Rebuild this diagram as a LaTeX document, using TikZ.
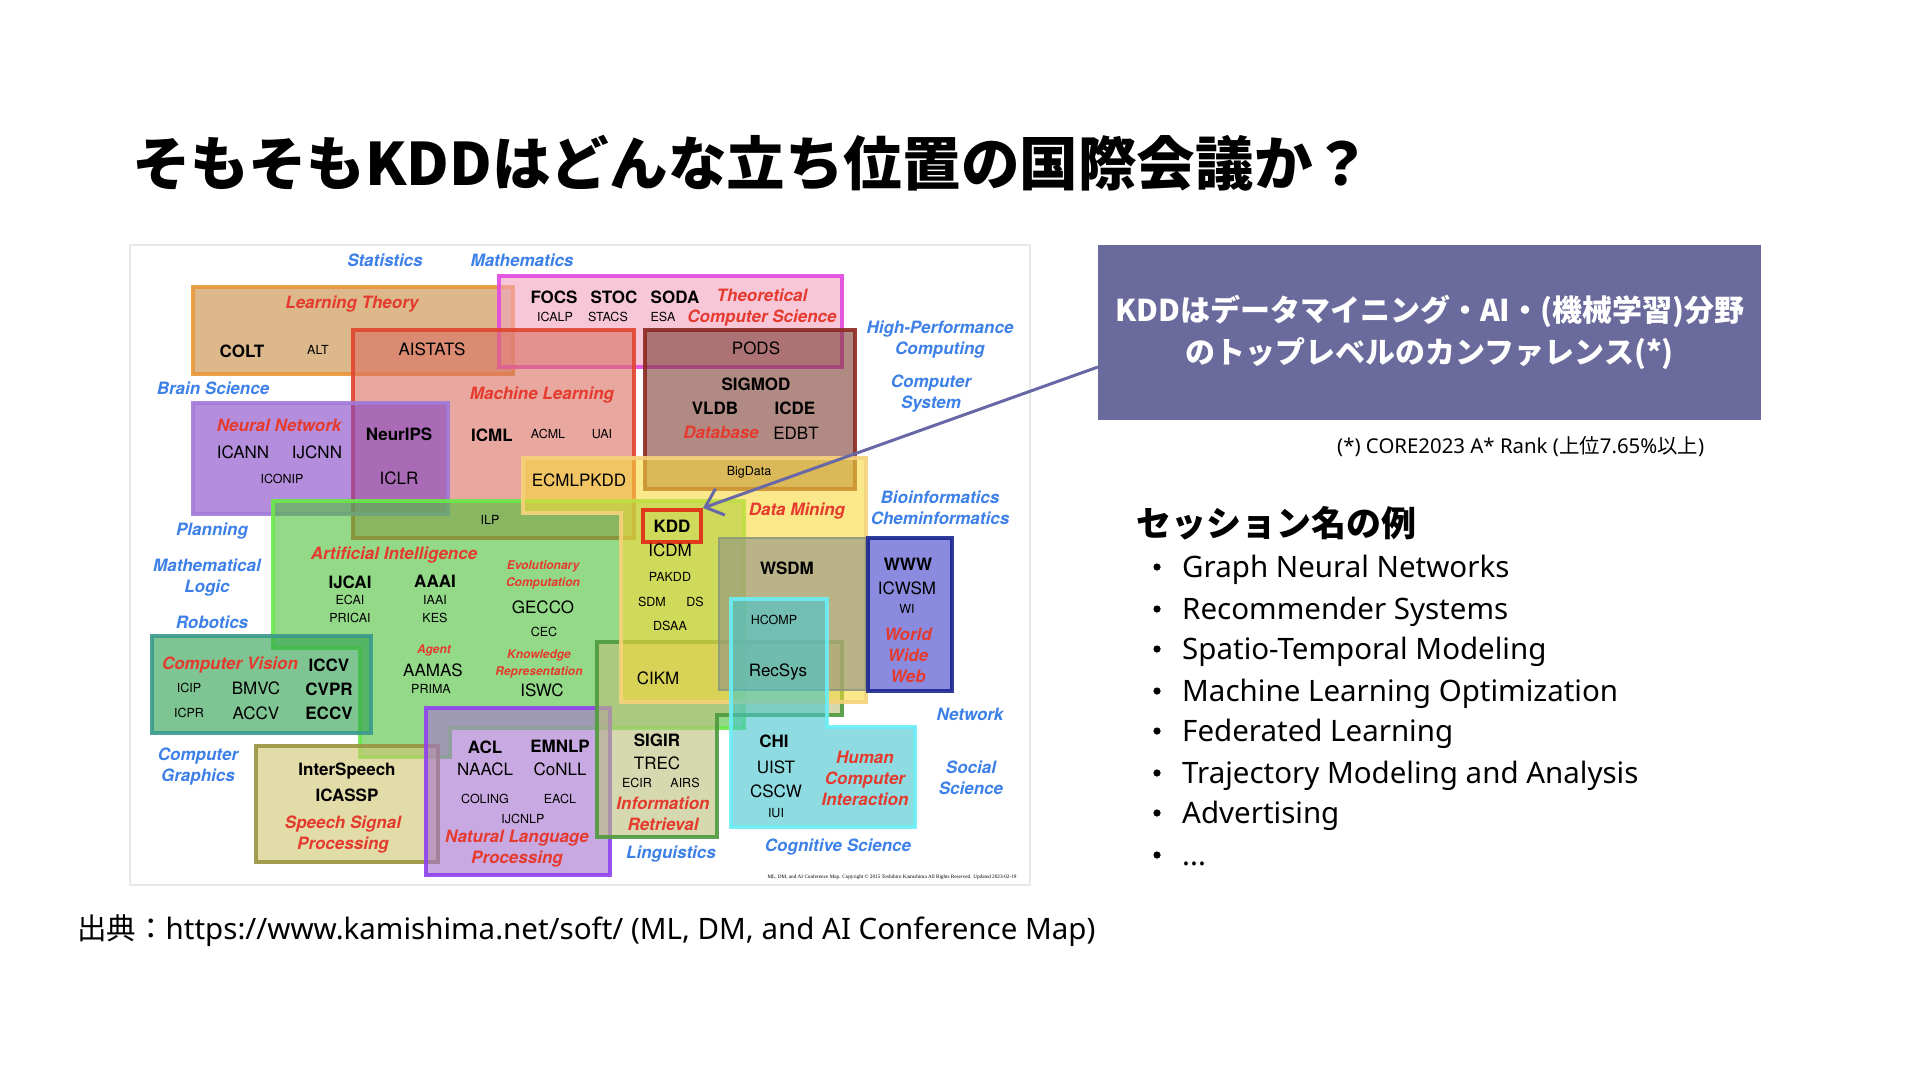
\documentclass[tikz,border=0pt]{standalone}
\usepackage{fontspec}
\setmainfont{Noto Sans}
\newfontfamily\jp{Noto Sans CJK JP}
\newfontfamily\hv{TeX Gyre Heros}
\newfontfamily\tms{Liberation Serif}
\usetikzlibrary{arrows.meta}
\definecolor{catblue}{HTML}{3D80E8}
\definecolor{catred}{HTML}{E53A2E}
\definecolor{boxpurple}{HTML}{6A6A9C}
\definecolor{arrowc}{HTML}{6868A6}
\definecolor{ltF}{HTML}{C68A3E}\definecolor{ltB}{HTML}{E8963A}
\definecolor{tcsF}{HTML}{F2A3BE}\definecolor{tcsB}{HTML}{E24AE0}
\definecolor{mlF}{HTML}{DA6E61}\definecolor{mlB}{HTML}{E0452E}
\definecolor{dbF}{HTML}{7D3C32}\definecolor{dbB}{HTML}{8C2A22}
\definecolor{nnF}{HTML}{8243C5}\definecolor{nnB}{HTML}{A27ADB}
\definecolor{aiF}{HTML}{4CC03A}\definecolor{aiB}{HTML}{6AE84A}
\definecolor{cvF}{HTML}{2A9E4C}\definecolor{cvB}{HTML}{3A9A8C}
\definecolor{spF}{HTML}{CFC671}\definecolor{spB}{HTML}{9A9440}
\definecolor{nlpF}{HTML}{A570CF}\definecolor{nlpB}{HTML}{9040F0}
\definecolor{irF}{HTML}{BBC17B}\definecolor{irB}{HTML}{4E9A3E}
\definecolor{dmF}{HTML}{F7D93C}\definecolor{dmB}{HTML}{F6D27C}
\definecolor{wsF}{HTML}{8E9185}\definecolor{wsB}{HTML}{8C9A7A}
\definecolor{webF}{HTML}{3C3CCB}\definecolor{webB}{HTML}{1A2790}
\definecolor{hciF}{HTML}{43C6CF}\definecolor{hciB}{HTML}{6CEEF5}
\definecolor{kddB}{HTML}{E03A1A}
\tikzset{
  area/.style={line width=3.5pt, fill opacity=0.6, draw opacity=0.9},
  cat/.style={inner sep=0pt, align=center, text=catblue, font=\hv\bfseries\itshape\fontsize{17}{21}\selectfont},
  fld/.style={inner sep=0pt, align=center, text=catred, font=\hv\bfseries\itshape\fontsize{17}{21}\selectfont},
  fldsm/.style={inner sep=0pt, align=center, text=catred, font=\hv\bfseries\itshape\fontsize{12}{16.5}\selectfont},
  cb/.style={inner sep=0pt, font=\hv\bfseries\fontsize{17}{20}\selectfont},
  cr/.style={inner sep=0pt, font=\hv\fontsize{17}{20}\selectfont},
  cs/.style={inner sep=0pt, font=\hv\fontsize{12.5}{15}\selectfont},
  item/.style={inner sep=0pt, anchor=base west, font=\fontsize{29.5}{32}\selectfont},
}
\begin{document}
\begin{tikzpicture}[x=1pt,y=-1pt]
\useasboundingbox[fill=white] (0,0) rectangle (1920,1080);

% ---------- title ----------
\node[anchor=west, inner sep=0pt, font=\jp\bfseries\fontsize{58.6}{62}\selectfont] (title) at (132,163) {そもそもKDDはどんな立ち位置の国際会議か？};

% ---------- map frame ----------
\draw[black!9, line width=1.5pt] (130,245) rectangle (1030,885);

% ---------- areas ----------
\path[area, draw=ltB, fill=ltF] (193,287) rectangle (513,374);
\path[area, draw=tcsB, fill=tcsF] (499,276) rectangle (842,367);
\path[area, draw=mlB, fill=mlF] (353,330) rectangle (634,538);
\path[area, draw=dbB, fill=dbF] (645,330) rectangle (855,489);
\path[area, draw=nnB, fill=nnF] (193,403) rectangle (448,514);
\path[area, draw=aiB, fill=aiF] (273,501) -- (744,501) -- (744,728) -- (450,728) -- (450,757) -- (360,757) -- (360,648) -- (273,648) -- cycle;
\path[area, draw=cvB, fill=cvF] (152,636) rectangle (371,733);
\path[area, draw=spB, fill=spF] (256,746) rectangle (438,862);
\path[area, draw=nlpB, fill=nlpF] (426,708) rectangle (610,875);
\path[area, draw=irB, fill=irF] (597,642) -- (842,642) -- (842,715) -- (717,715) -- (717,837) -- (597,837) -- cycle;
\path[area, draw=dmB, fill=dmF] (523,458) -- (866,458) -- (866,702) -- (621,702) -- (621,513) -- (523,513) -- cycle;
\path[area, draw=wsB, fill=wsF, line width=2pt] (719,538) rectangle (866,690);
\path[area, draw=webB, fill=webF] (868,538) rectangle (952,691);
\path[area, draw=hciB, fill=hciF] (731,599) -- (827,599) -- (827,727) -- (915,727) -- (915,827) -- (731,827) -- cycle;

% ---------- blue categories ----------
\node[cat] (statistics) at (385,260) {Statistics};
\node[cat] (mathematics) at (522,260) {Mathematics};
\node[cat] (brain) at (213,388) {Brain Science};
\node[cat] (planning) at (212,531) {Planning};
\node[cat] (mathlogic) at (207,578) {Mathematical\\Logic};
\node[cat] (robotics) at (212,622) {Robotics};
\node[cat] (graphics) at (198,767) {Computer\\Graphics};
\node[cat] (hpc) at (940,340) {High-Performance\\Computing};
\node[cat] (compsys) at (931,394) {Computer\\System};
\node[cat] (bioinfo) at (940,508) {Bioinformatics\\Cheminformatics};
\node[cat] (network) at (970,714) {Network};
\node[cat] (social) at (971,778) {Social\\Science};
\node[cat] (cognitive) at (838,847) {Cognitive Science};
\node[cat] (linguistics) at (671,854) {Linguistics};

% ---------- red fields ----------
\node[fld] (lt) at (352,304) {Learning Theory};
\node[fld] (tcs) at (762,308) {Theoretical\\Computer Science};
\node[fld] (ml) at (542,395) {Machine Learning};
\node[fld] (db) at (721,432) {Database};
\node[fld] (nn) at (279,425) {Neural Network};
\node[fld] (ai) at (394,555) {Artificial Intelligence};
\node[fldsm] (evo) at (543,575) {Evolutionary\\Computation};
\node[fldsm] (agent) at (434,650) {Agent};
\node[fldsm] (kr) at (539,664) {Knowledge\\Representation};
\node[fld] (cv) at (230,665) {Computer Vision};
\node[fld] (speech) at (343,835) {Speech Signal\\Processing};
\node[fld] (nlp) at (517,849) {Natural Language\\Processing};
\node[fld] (ir) at (663,814) {Information\\Retrieval};
\node[fld] (dm) at (797,511) {Data Mining};
\node[fld] (www) at (908,655) {World\\Wide\\Web};
\node[fld] (hci) at (865,778) {Human\\Computer\\Interaction};

% ---------- conferences ----------
\node[cb] (colt) at (242,351) {COLT};
\node[cs] (alt) at (318,350) {ALT};
\node[cr] (aistats) at (432,349) {AISTATS};
\node[cb] (focs) at (554,297) {FOCS};
\node[cb] (stoc) at (614,297) {STOC};
\node[cb] (soda) at (675,297) {SODA};
\node[cs] (icalp) at (555,317) {ICALP};
\node[cs] (stacs) at (608,317) {STACS};
\node[cs] (esa) at (663,317) {ESA};
\node[cr] (pods) at (756,348) {PODS};
\node[cb] (sigmod) at (756,384) {SIGMOD};
\node[cb] (vldb) at (715,408) {VLDB};
\node[cb] (icde) at (795,408) {ICDE};
\node[cr] (edbt) at (796,433) {EDBT};
\node[cs] (bigdata) at (749,472) {BigData};
\node[cb] (icml) at (492,435) {ICML};
\node[cs] (acml) at (548,434) {ACML};
\node[cs] (uai) at (602,434) {UAI};
\node[cb] (neurips) at (399,434) {NeurIPS};
\node[cr] (iclr) at (399,478) {ICLR};
\node[cr] (icann) at (243,452) {ICANN};
\node[cr] (ijcnn) at (317,452) {IJCNN};
\node[cs] (iconip) at (282,479) {ICONIP};
\node[cr] (ecmlpkdd) at (579,480) {ECMLPKDD};
\node[cs] (ilp) at (490,520) {ILP};
\node[cb, draw=kddB, line width=4pt, minimum width=58pt, minimum height=32pt] (kdd) at (672,526) {KDD};
\node[cr] (icdm) at (670,550) {ICDM};
\node[cs] (pakdd) at (670,577) {PAKDD};
\node[cs] (sdm) at (652,602) {SDM};
\node[cs] (ds) at (695,602) {DS};
\node[cs] (dsaa) at (670,626) {DSAA};
\node[cr] (cikm) at (658,678) {CIKM};
\node[cb] (wsdm) at (787,568) {WSDM};
\node[cs] (hcomp) at (774,620) {HCOMP};
\node[cr] (recsys) at (778,672) {RecSys};
\node[cb] (wwwc) at (908,564) {WWW};
\node[cr] (icwsm) at (907,588) {ICWSM};
\node[cs] (wi) at (907,609) {WI};
\node[cb] (ijcai) at (350,582) {IJCAI};
\node[cs] (ecai) at (350,600) {ECAI};
\node[cs] (pricai) at (350,618) {PRICAI};
\node[cb] (aaai) at (435,581) {AAAI};
\node[cs] (iaai) at (435,600) {IAAI};
\node[cs] (kes) at (435,618) {KES};
\node[cr] (aamas) at (433,670) {AAMAS};
\node[cs] (prima) at (431,689) {PRIMA};
\node[cr] (gecco) at (543,607) {GECCO};
\node[cs] (cec) at (544,632) {CEC};
\node[cr] (iswc) at (542,690) {ISWC};
\node[cb] (iccv) at (329,665) {ICCV};
\node[cs] (icip) at (189,688) {ICIP};
\node[cr] (bmvc) at (256,688) {BMVC};
\node[cb] (cvpr) at (329,689) {CVPR};
\node[cs] (icpr) at (189,713) {ICPR};
\node[cr] (accv) at (256,713) {ACCV};
\node[cb] (eccv) at (329,713) {ECCV};
\node[cb] (interspeech) at (347,771) {InterSpeech};
\node[cb] (icassp) at (347,795) {ICASSP};
\node[cb] (acl) at (485,747) {ACL};
\node[cb] (emnlp) at (560,746) {EMNLP};
\node[cr] (naacl) at (485,769) {NAACL};
\node[cr] (conll) at (560,769) {CoNLL};
\node[cs] (coling) at (485,799) {COLING};
\node[cs] (eacl) at (560,799) {EACL};
\node[cs] (ijcnlp) at (523,819) {IJCNLP};
\node[cb] (sigir) at (657,740) {SIGIR};
\node[cr] (trec) at (657,763) {TREC};
\node[cs] (ecir) at (637,783) {ECIR};
\node[cs] (airs) at (685,783) {AIRS};
\node[cb] (chi) at (774,741) {CHI};
\node[cr] (uist) at (776,767) {UIST};
\node[cr] (cscw) at (776,791) {CSCW};
\node[cs] (iui) at (776,813) {IUI};
\node[inner sep=0pt, font=\tms\fontsize{5.2}{6}\selectfont] (copyright) at (892,877) {ML, DM, and AI Conference Map. Copyright \textcopyright\ 2015 Toshihiro Kamishima All Rights Reserved. Updated 2023-02-19};

% ---------- callout ----------
\node[fill=boxpurple, minimum width=663pt, minimum height=175pt, anchor=north west, inner sep=0pt, text=white, align=center, font=\jp\bfseries\fontsize{30}{42}\selectfont] (kddbox) at (1098,245) {KDDはデータマイニング・AI・(機械学習)分野\\のトップレベルのカンファレンス(*)};
\coordinate (astart) at (1098,367);
\draw[arrowc, line width=3pt, -{Straight Barb[length=16pt, width=28pt, line width=3pt]}] (astart) -- (kdd.north east);
\node[anchor=west, inner sep=0pt, font=\fontsize{20.4}{22}\selectfont] (note) at (1337,447) {(*) CORE2023 A* Rank ({\jp 上位}7.65\%{\jp 以上})};

% ---------- session list ----------
\node[anchor=west, inner sep=0pt, font=\jp\bfseries\fontsize{35}{40}\selectfont] (sess) at (1136,523) {セッション名の例};
\foreach \yy in {567,609,649,691,731,773,813,855} \fill (1157,\yy) circle (3.6pt);
\node[item] (i1) at (1182,577) {Graph Neural Networks};
\node[item] (i2) at (1182,619) {Recommender Systems};
\node[item] (i3) at (1182,659) {Spatio-Temporal Modeling};
\node[item] (i4) at (1182,701) {Machine Learning Optimization};
\node[item] (i5) at (1182,741) {Federated Learning};
\node[item] (i6) at (1182,783) {Trajectory Modeling and Analysis};
\node[item] (i7) at (1182,823) {Advertising};
\node[item] (i8) at (1182,865) {...};

% ---------- source ----------
\node[anchor=west, inner sep=0pt, font=\fontsize{29.5}{33}\selectfont] (source) at (77,931) {{\jp 出典：}https://www.kamishima.net/soft/ (ML, DM, and AI Conference Map)};
\end{tikzpicture}
\end{document}
